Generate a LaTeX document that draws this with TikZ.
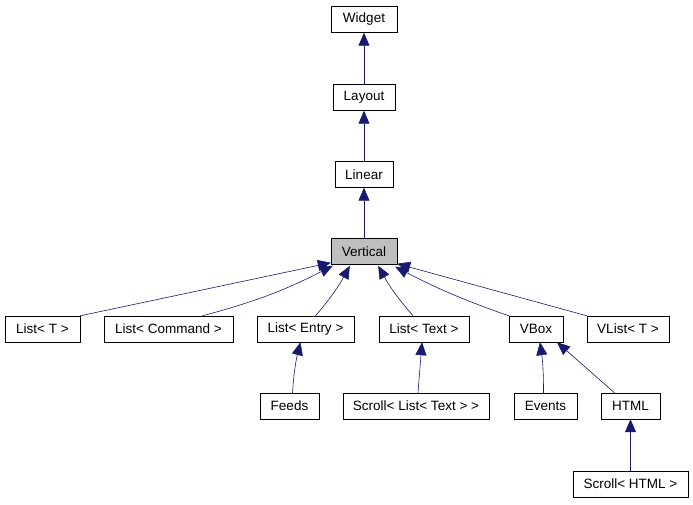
\documentclass[tikz,border=0pt]{standalone}
\usepackage{fontspec}
\setmainfont{Liberation Sans}
\usetikzlibrary{arrows.meta, calc}

\definecolor{edgeblue}{HTML}{191970}
\definecolor{selgray}{HTML}{BFBFBF}

\begin{document}
\begin{tikzpicture}[x=1pt, y=-1pt,
  cls/.style={draw, fill=white, minimum height=26pt, inner xsep=0pt,
    font=\fontsize{13.5}{15}\selectfont},
  current/.style={cls, fill=selgray},
  inherit/.style={draw=edgeblue, line width=0.6pt,
    -{Triangle[length=13pt, width=11pt]}},
]
\useasboundingbox (0,0) rectangle (693,504);

% hierarchy top
\node[cls, minimum width=66pt] (widget) at (364,19.5) {Widget};
\node[cls, minimum width=62pt] (layout) at (364,97.5) {Layout};
\node[cls, minimum width=58pt] (linear) at (364,174.5) {Linear};
\node[current, minimum width=66pt] (vertical) at (364,251.5) {Vertical};

% direct subclasses
\node[cls, minimum width=75pt] (listt) at (42.5,329) {List< T >};
\node[cls, minimum width=129pt] (listcmd) at (168.5,329) {List< Command >};
\node[cls, minimum width=97pt] (listentry) at (305.5,329) {List< Entry >};
\node[cls, minimum width=90pt] (listtext) at (424,329) {List< Text >};
\node[cls, minimum width=54pt] (vbox) at (536,329) {VBox};
\node[cls, minimum width=82pt] (vlist) at (628,329) {VList< T >};

% second level
\node[cls, minimum width=59pt] (feeds) at (289.5,406) {Feeds};
\node[cls, minimum width=146pt] (scrolltext) at (416,406) {Scroll< List< Text > >};
\node[cls, minimum width=63pt] (events) at (545.5,406) {Events};
\node[cls, minimum width=59pt] (html) at (630.5,406) {HTML};
\node[cls, minimum width=115pt] (scrollhtml) at (630.5,484) {Scroll< HTML >};

\draw[inherit] (layout) -- (widget);
\draw[inherit] (linear) -- (layout);
\draw[inherit] (vertical) -- (linear);

\draw[inherit] (listt.north east) -- ($(vertical.south west)+(0,-2)$);
\draw[inherit] ($(listcmd.north)+(34,0)$) to[bend right=6] ($(vertical.south west)+(2,1)$);
\draw[inherit] ($(listentry.north)+(10,0)$) to[bend right=6] ($(vertical.south west)+(19,1)$);
\draw[inherit] ($(listtext.north)+(-11,0)$) to[bend left=6] ($(vertical.south east)+(-19,1)$);
\draw[inherit] (vbox.north west) to[bend left=4] ($(vertical.south east)+(-2,2)$);
\draw[inherit] (vlist.north west) -- ($(vertical.south east)+(0,-1)$);

\draw[inherit] ($(feeds.north)+(3,0)$) to[bend left=5] ($(listentry.south)+(-5,0)$);
\draw[inherit] ($(scrolltext.north)+(2,0)$) -- ($(listtext.south)+(-2,0)$);
\draw[inherit] ($(events.north)+(-2,0)$) to[bend right=4] ($(vbox.south)+(4,0)$);
\draw[inherit] ($(html.north)+(-16,0)$) -- ($(vbox.south)+(21,0)$);
\draw[inherit] (scrollhtml) -- (html);
\end{tikzpicture}
\end{document}
